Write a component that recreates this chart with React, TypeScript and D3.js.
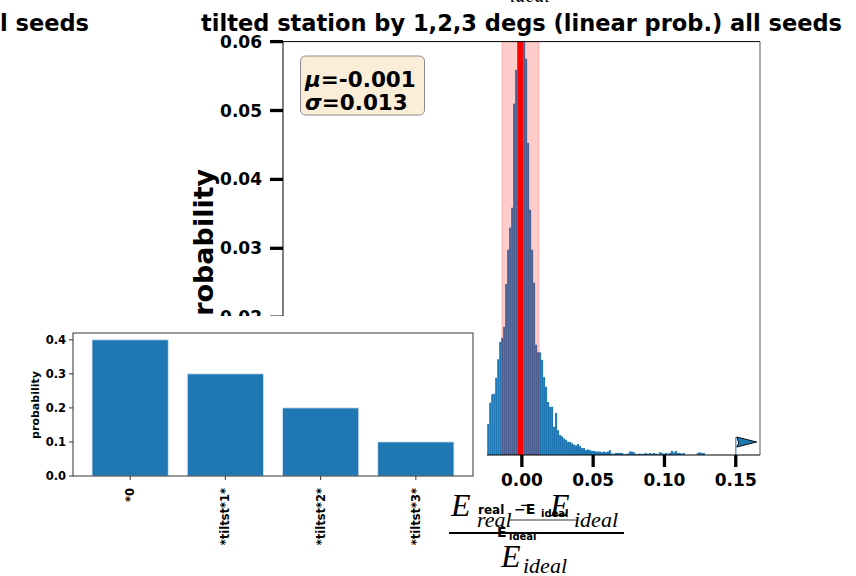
import React from "react";
import * as d3 from "d3";

// ---------- data ----------
const mainTitle = "tilted station by 1,2,3 degs (linear prob.) all seeds";
const leftTitleTail = "all seeds";
const histStart = -0.0243;
const histBinWidth = 0.0014;
const histProb = [
  0.0045, 0.0076, 0.0088, 0.0089, 0.0112, 0.0139, 0.0164, 0.017, 0.0186, 0.0248,
  0.0298, 0.033, 0.0359, 0.051, 0.0559, 0.064, 0.068, 0.066, 0.061, 0.0575,
  0.0453, 0.0356, 0.0298, 0.025, 0.016, 0.0149, 0.0149, 0.0138, 0.0113, 0.0099,
  0.0077, 0.007, 0.007, 0.0041, 0.0061, 0.0036, 0.0029, 0.0027, 0.0024, 0.0022,
  0.0019, 0.0019, 0.0017, 0.0015, 0.0014, 0.0016, 0.0013, 0.001, 0.001, 0.0007,
  0.0008, 0.0007, 0.0006, 0.0006, 0.0005, 0.0005, 0.0005, 0.0004, 0.0005, 0.0004,
  0.0005, 0.0007, 0.0002, 0.0002, 0.0003, 0.0003, 0.0003, 0.0003, 0.00015, 0.00015,
  0.0002, 0.0005, 0.0005, 0.0004, 0.00015, 0.00015, 0.0002, 0.00015, 0.0002, 0.0003,
  0.00015, 0.0003, 0.0002, 0.0003, 0.0002, 0.00015, 0.0004, 0.0003, 0.0002, 0.0003,
  0.0002, 0.0003, 0.0006, 0.0004, 0.0006, 0.0003, 0.0003, 0.0002, 0.0003, 0,
  0, 0, 0, 0, 0, 0.0003, 0.0004, 0.0003, 0.0003,
];
const meanLabel = "-0.001";
const sigmaLabel = "0.013";
const meanValue = -0.001;
const sigmaValue = 0.013;
const flagValue = 0.15;
const mainXTicks = [0, 0.05, 0.1, 0.15];
const mainYTicks = [0.02, 0.03, 0.04, 0.05, 0.06];

const insetCategories = ["*0", "*tiltst*1*", "*tiltst*2*", "*tiltst*3*"];
const insetValues = [0.4, 0.3, 0.2, 0.1];
const insetYTicks = [0, 0.1, 0.2, 0.3, 0.4];

// ---------- layout ----------
const W = 856;
const H = 576;
const BOLD = "'DejaVu Sans', sans-serif";
const SERIF = "'Liberation Serif', 'DejaVu Serif', serif";
const BLUE = "#1f77b4";

const mx = d3.scaleLinear().domain([-0.1675, 0.167]).range([283, 760]);
const my = d3.scaleLinear().domain([0, 0.06]).range([455, 41.6]);

const ix = d3.scaleLinear().domain([-0.6, 3.6]).range([73, 473]);
const iy = d3.scaleLinear().domain([0, 0.42]).range([476, 333]);

export default function App() {
  const fmt2 = d3.format(".2f");
  const fmt1 = d3.format(".1f");
  const bins = histProb.map((p, i) => ({
    x0: histStart + i * histBinWidth,
    x1: histStart + (i + 1) * histBinWidth,
    p,
  }));
  const fx = mx(flagValue);
  const fy0 = my(0);
  return (
    <svg
      width={W}
      height={H}
      viewBox={`0 0 ${W} ${H}`}
      style={{ position: "absolute", left: 0, top: 0, background: "#fff" }}
    >
      <defs>
        <clipPath id="mainClip">
          <rect x={mx.range()[0]} y={my.range()[1]} width={mx.range()[1] - mx.range()[0]} height={my.range()[0] - my.range()[1]} />
        </clipPath>
      </defs>
      <rect x={0} y={0} width={W} height={H} fill="#fff" />

      {/* clipped text pieces from neighbouring figures */}
      <text x={510} y={2} fontFamily={SERIF} fontStyle="italic" fontSize={20} fill="#000">ideal</text>
      <text x={89} y={31} textAnchor="end" fontFamily={BOLD} fontWeight="bold" fontSize={22.5} fill="#000">{leftTitleTail}</text>

      {/* main title */}
      <text x={(mx.range()[0] + mx.range()[1]) / 2} y={31} textAnchor="middle" fontFamily={BOLD} fontWeight="bold" fontSize={22.5} fill="#000">{mainTitle}</text>

      {/* histogram */}
      <g clipPath="url(#mainClip)">
        {bins.map((b, i) =>
          b.p > 0 ? (
            <rect key={i} x={mx(b.x0)} y={my(b.p)} width={mx(b.x1) - mx(b.x0)} height={my(0) - my(b.p)} fill={BLUE} />
          ) : null
        )}
        <rect
          x={mx(meanValue - sigmaValue)}
          y={my.range()[1]}
          width={mx(meanValue + sigmaValue) - mx(meanValue - sigmaValue)}
          height={my.range()[0] - my.range()[1]}
          fill="rgba(255,0,0,0.2)"
          stroke="rgba(255,0,0,0.2)"
          strokeWidth={1}
        />
        <line x1={mx(meanValue)} x2={mx(meanValue)} y1={my.range()[0]} y2={my.range()[1]} stroke="#ff0000" strokeWidth={5} />
      </g>

      {/* flag marker */}
      <line x1={fx} x2={fx} y1={fy0} y2={fy0 - 18} stroke="#5fa2d6" strokeWidth={1.5} />
      <path
        d={`M${fx + 1},${fy0 - 18} L${fx + 21},${fy0 - 13} L${fx + 1},${fy0 - 8} L${fx + 3},${fy0 - 12} Z`}
        fill={BLUE}
        stroke="#111"
        strokeWidth={1}
        strokeLinejoin="round"
      />

      {/* main spines */}
      <line x1={mx.range()[0]} x2={mx.range()[1]} y1={my.range()[1]} y2={my.range()[1]} stroke="#000" strokeWidth={1} />
      <line x1={mx.range()[1]} x2={mx.range()[1]} y1={my.range()[1]} y2={my.range()[0]} stroke="#555" strokeWidth={1} />
      <line x1={mx.range()[0]} x2={mx.range()[0]} y1={my.range()[1]} y2={my.range()[0]} stroke="#000" strokeWidth={1} />
      <line x1={mx.range()[0]} x2={mx.range()[1]} y1={my.range()[0]} y2={my.range()[0]} stroke="#000" strokeWidth={1} />

      {/* main y ticks */}
      {mainYTicks.map((t) => (
        <g key={t}>
          <line x1={mx.range()[0] - 13} x2={mx.range()[0]} y1={my(t)} y2={my(t)} stroke="#000" strokeWidth={3.3} />
          <text x={mx.range()[0] - 21} y={my(t) + 6} textAnchor="end" fontFamily={BOLD} fontWeight="bold" fontSize={17} fill="#000">{fmt2(t)}</text>
        </g>
      ))}
      {/* main x ticks */}
      {mainXTicks.map((t) => (
        <g key={t}>
          <line x1={mx(t)} x2={mx(t)} y1={my(0)} y2={my(0) + 12} stroke="#000" strokeWidth={3.3} />
          <text x={mx(t)} y={486} textAnchor="middle" fontFamily={BOLD} fontWeight="bold" fontSize={17} fill="#000">{fmt2(t)}</text>
        </g>
      ))}
      <text
        transform={`translate(213, 252) rotate(-90)`}
        textAnchor="middle"
        fontFamily={BOLD}
        fontWeight="bold"
        fontSize={27}
        fill="#000"
      >
        probability
      </text>

      {/* stats box */}
      <rect x={300.5} y={56} width={124} height={59} rx={5} ry={5} fill="#faeed9" stroke="#8a8a8a" strokeWidth={1} />
      <text x={305} y={87} fontFamily={BOLD} fontWeight="bold" fontSize={21.5} fill="#000">
        <tspan fontStyle="italic">μ</tspan>
        <tspan>{`=${meanLabel}`}</tspan>
      </text>
      <text x={305} y={110} fontFamily={BOLD} fontWeight="bold" fontSize={21.5} fill="#000">
        <tspan fontStyle="italic">σ</tspan>
        <tspan>{`=${sigmaLabel}`}</tspan>
      </text>

      {/* inset figure */}
      <rect x={0} y={316} width={487} height={H - 316} fill="#fff" />
      {insetValues.map((v, i) => (
        <rect
          key={i}
          x={ix(i - 0.4)}
          y={iy(v)}
          width={ix(i + 0.4) - ix(i - 0.4)}
          height={iy(0) - iy(v)}
          fill={BLUE}
          stroke="#d6e6f2"
          strokeWidth={0.8}
        />
      ))}
      <rect x={ix.range()[0]} y={iy.range()[1]} width={ix.range()[1] - ix.range()[0]} height={iy.range()[0] - iy.range()[1]} fill="none" stroke="#333" strokeWidth={1} />
      {insetYTicks.map((t) => (
        <g key={t}>
          <line x1={ix.range()[0] - 4} x2={ix.range()[0]} y1={iy(t)} y2={iy(t)} stroke="#333" strokeWidth={1} />
          <text x={ix.range()[0] - 7} y={iy(t) + 4} textAnchor="end" fontFamily={BOLD} fontWeight="bold" fontSize={11.5} fill="#000">{fmt1(t)}</text>
        </g>
      ))}
      {insetCategories.map((c, i) => (
        <g key={c}>
          <line x1={ix(i)} x2={ix(i)} y1={iy(0)} y2={iy(0) + 4} stroke="#333" strokeWidth={1} />
          <text
            transform={`translate(${ix(i) + 4}, ${iy(0) + 12}) rotate(-90)`}
            textAnchor="end"
            fontFamily={BOLD}
            fontWeight="bold"
            fontSize={11.5}
            fill="#000"
          >
            {c}
          </text>
        </g>
      ))}
      <text
        transform={`translate(38.5, 405) rotate(-90)`}
        textAnchor="middle"
        fontFamily={BOLD}
        fontWeight="bold"
        fontSize={11}
        fill="#000"
      >
        probability
      </text>

      {/* x label formula (small bold, overlapped by large serif) */}
      <g fontFamily={BOLD} fontWeight="bold" fill="#000">
        <text x={478} y={514} fontSize={12}>real</text>
        <text x={514} y={514} fontSize={14}>−E</text>
        <text x={541} y={517} fontSize={10}>ideal</text>
        <line x1={510} x2={577} y1={520} y2={520} stroke="#000" strokeWidth={0.8} />
        <text x={497} y={537} fontSize={14}>E</text>
        <text x={509} y={540} fontSize={10}>ideal</text>
      </g>
      <g fontFamily={SERIF} fontStyle="italic" fill="#000">
        <text x={451} y={516} fontSize={32}>E</text>
        <text x={477} y={527} fontSize={22}>real</text>
        <text x={520} y={514} fontSize={26} fontStyle="normal">−</text>
        <text x={550} y={516} fontSize={32}>E</text>
        <text x={574} y={527} fontSize={22}>ideal</text>
        <text x={501} y={567} fontSize={32}>E</text>
        <text x={523} y={573} fontSize={22}>ideal</text>
      </g>
      <line x1={449} x2={624} y1={533} y2={533} stroke="#000" strokeWidth={2} />
    </svg>
  );
}
